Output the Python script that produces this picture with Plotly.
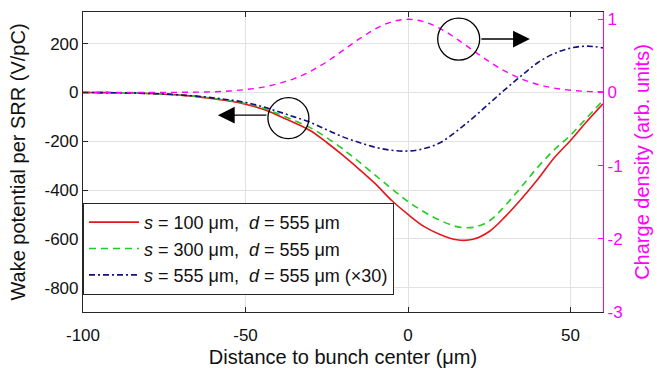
import plotly.graph_objects as go

# ---- data ----
x_um = [-100, -95, -90, -85, -80, -75, -70, -65, -60, -55, -50, -45, -40, -35, -30, -25,
        -20, -15, -10, -5, 0, 5, 10, 15, 20, 25, 30, 35, 40, 45, 50, 55, 60]

wake_s100 = [0, -0.5, -1, -2, -4, -7, -11, -17, -26, -35, -48, -67, -94, -124, -157, -205,
             -258, -315, -375, -443, -500, -550, -583, -604, -602, -570, -508, -435, -355, -268, -197, -119, -46]

wake_s300 = [0, -0.5, -1, -2, -4, -7, -11, -16, -24, -33, -45, -62, -87, -115, -145, -185,
             -232, -285, -340, -395, -447, -490, -525, -550, -553, -527, -462, -385, -305, -235, -175, -104, -33]

wake_s555_x30 = [0, -0.5, -1, -2, -4, -6, -10, -15, -22, -30, -41, -57, -78, -100, -123, -153,
                 -182, -205, -225, -237, -240, -230, -205, -158, -104, -45, 14, 70, 123, 160, 182, 190, 183]

charge_density = [0, 0, 0, 0, 0, 0, 0.002, 0.005, 0.01, 0.02, 0.04, 0.07, 0.12, 0.19, 0.29, 0.42,
                  0.575, 0.732, 0.871, 0.966, 1.0, 0.966, 0.871, 0.732, 0.575, 0.421, 0.287, 0.183, 0.109, 0.06, 0.031, 0.015, 0.007]

legend_names = [
    "<i>s</i> = 100 μm,\u00a0 <i>d</i> = 555 μm",
    "<i>s</i> = 300 μm,\u00a0 <i>d</i> = 555 μm",
    "<i>s</i> = 555 μm,\u00a0 <i>d</i> = 555 μm (×30)",
]

x_ticks = [-100, -50, 0, 50]
x_ticktext = ["-100", "-50", "0", "50"]
y_ticks = [-800, -600, -400, -200, 0, 200]
y_ticktext = ["-800", "-600", "-400", "-200", "0", "200"]
y2_ticks = [-3, -2, -1, 0, 1]
y2_ticktext = ["-3", "-2", "-1", "0", "1"]

FONT = "Liberation Sans, Arial, Helvetica, sans-serif"
AXC = "#262626"
MAG = "#ff00ff"

fig = go.Figure()
fig.add_trace(go.Scatter(x=x_um, y=wake_s100, mode="lines", name=legend_names[0], legendgroup="a",
                         line=dict(color="#e3171c", width=1.6, shape="spline")))
fig.add_trace(go.Scatter(x=x_um, y=wake_s300, mode="lines", name=legend_names[1], legendgroup="b",
                         line=dict(color="#22cc22", width=1.6, dash="7px,5px", shape="spline")))
fig.add_trace(go.Scatter(x=x_um, y=wake_s555_x30, mode="lines", name=legend_names[2], legendgroup="c",
                         line=dict(color="#12127f", width=1.6, dash="6px,3px,2px,3px", shape="spline")))
fig.add_trace(go.Scatter(x=x_um, y=charge_density, mode="lines", yaxis="y2", showlegend=False,
                         line=dict(color=MAG, width=1.4, dash="6px,5px", shape="spline")))

# circles and arrows
fig.add_shape(type="circle", xref="x", yref="y", xsizemode="pixel", ysizemode="pixel",
              xanchor=-36.8, yanchor=-105, x0=-20.5, x1=20.5, y0=-20.5, y1=20.5,
              line=dict(color="black", width=1.3))
fig.add_shape(type="circle", xref="x", yref="y", xsizemode="pixel", ysizemode="pixel",
              xanchor=15.6, yanchor=219, x0=-21, x1=21, y0=-21, y1=21,
              line=dict(color="black", width=1.3))
fig.add_annotation(x=-58.5, y=-93, xref="x", yref="y", ax=50, ay=0, axref="pixel", ayref="pixel",
                   text="", showarrow=True, arrowhead=2, arrowsize=2.4, arrowwidth=1.4, arrowcolor="black")
fig.add_annotation(x=37.5, y=219, xref="x", yref="y", ax=-50, ay=0, axref="pixel", ayref="pixel",
                   text="", showarrow=True, arrowhead=2, arrowsize=2.4, arrowwidth=1.4, arrowcolor="black")

fig.update_layout(
    width=657, height=368,
    margin=dict(l=83, r=54, t=12, b=56, autoexpand=False),
    paper_bgcolor="white", plot_bgcolor="white",
    font=dict(family=FONT, size=17, color="#111111"),
    xaxis=dict(range=[-100, 60], tickvals=x_ticks, ticktext=x_ticktext, ticks="inside", ticklen=5, tickcolor=AXC,
               showline=True, linecolor=AXC, linewidth=1.2, mirror="ticks", ticklabelstandoff=7,
               showgrid=True, gridcolor="#e2e2e2", gridwidth=1, zeroline=False, automargin=False,
               title=dict(text="Distance to bunch center (μm)", standoff=8)),
    yaxis=dict(range=[-900, 330], tickvals=y_ticks, ticktext=y_ticktext, ticks="inside", ticklen=5, tickcolor=AXC,
               showline=True, linecolor=AXC, linewidth=1.2, mirror=False, automargin=False,
               showgrid=True, gridcolor="#e2e2e2", gridwidth=1, zeroline=False,
               title=dict(text="Wake potential per SRR (V/pC)", standoff=13)),
    yaxis2=dict(range=[-3, 1.1], tickvals=y2_ticks, ticktext=y2_ticktext, overlaying="y", side="right",
                ticks="inside", ticklen=5, tickcolor=MAG, showline=True, linecolor=MAG, linewidth=1.2,
                showgrid=False, zeroline=False, tickfont=dict(color=MAG), automargin=False,
                title=dict(text="Charge density (arb. units)", font=dict(color=MAG), standoff=13)),
    legend=dict(x=0, y=0.057, xanchor="left", yanchor="bottom", bordercolor=AXC, borderwidth=1,
                bgcolor="white", itemwidth=50, tracegroupgap=0, font=dict(size=18)),
    showlegend=True,
)

fig.write_html("out.html")
